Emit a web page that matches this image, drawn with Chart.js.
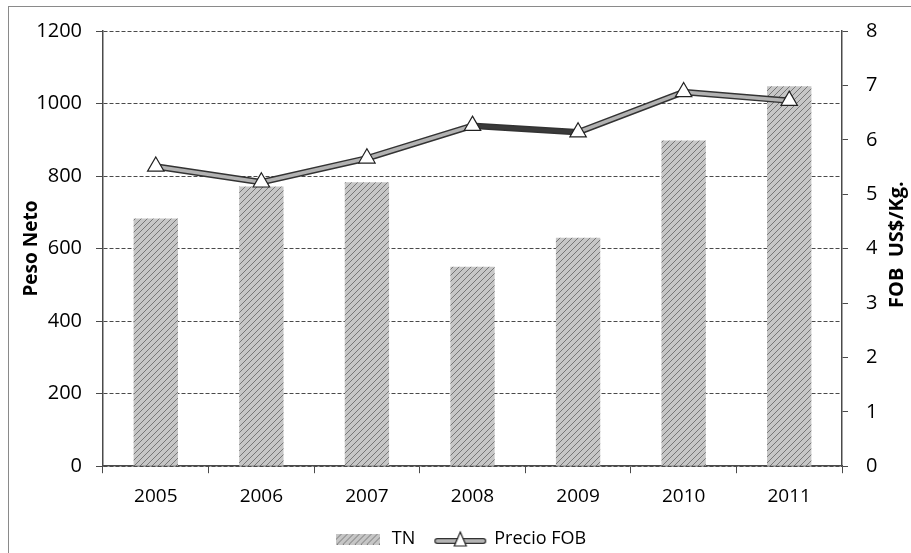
<!DOCTYPE html>
<html>
<head>
<meta charset="utf-8">
<script src="https://cdn.jsdelivr.net/npm/chart.js@4"></script>
<style>
  html, body { margin: 0; padding: 0; background: #fff; }
  #wrap { position: relative; width: 911px; height: 553px; overflow: hidden; }
  #frame { position: absolute; left: 8px; top: 6px; width: 960px; height: 600px; border: 1px solid #8a8a8a; box-sizing: border-box; pointer-events: none; }
  canvas { position: absolute; left: 0; top: 0; }
</style>
</head>
<body>
<div id="wrap">
  <canvas id="chart" width="911" height="553"></canvas>
  <div id="frame"></div>
</div>
<script>
// Peso neto exportado (TN) y precio FOB por año
const years = ['2005', '2006', '2007', '2008', '2009', '2010', '2011'];
const pesoNeto = [683, 771, 783, 550, 630, 898, 1048];
const precioFob = [5.51, 5.22, 5.66, 6.26, 6.14, 6.88, 6.72];

const FONT = '"Open Sans", "DejaVu Sans", sans-serif';

function makeHatch() {
  const c = document.createElement('canvas');
  c.width = 6; c.height = 6;
  const g = c.getContext('2d');
  g.fillStyle = '#c6c6c6';
  g.fillRect(0, 0, 6, 6);
  g.strokeStyle = '#767676';
  g.lineWidth = 1;
  g.beginPath();
  g.moveTo(-1, 7); g.lineTo(7, -1);
  g.moveTo(-4, 4); g.lineTo(4, -4);
  g.moveTo(2, 10); g.lineTo(10, 2);
  g.stroke();
  return g.createPattern(c, 'repeat');
}

const hatch = makeHatch();

// legend icons
function barIcon() {
  const c = document.createElement('canvas');
  c.width = 44; c.height = 11;
  const g = c.getContext('2d');
  g.fillStyle = hatch;
  g.fillRect(0, 0, 44, 11);
  return c;
}

function lineIcon() {
  const c = document.createElement('canvas');
  c.width = 54; c.height = 20;
  const g = c.getContext('2d');
  g.lineCap = 'round';
  g.strokeStyle = '#333';
  g.lineWidth = 6;
  g.beginPath(); g.moveTo(4, 12); g.lineTo(50, 12); g.stroke();
  g.strokeStyle = '#b4b4b4';
  g.lineWidth = 3.5;
  g.beginPath(); g.moveTo(4, 12); g.lineTo(50, 12); g.stroke();
  g.fillStyle = '#fff';
  g.strokeStyle = '#222';
  g.lineWidth = 1.2;
  g.beginPath(); g.moveTo(27, 3); g.lineTo(33, 17); g.lineTo(21, 17); g.closePath();
  g.fill(); g.stroke();
  return c;
}

const legendIcons = [barIcon(), lineIcon()];

// right axis title reads bottom-to-top
const rightTitle = {
  id: 'rightTitle',
  afterDraw(chart) {
    const { ctx, chartArea } = chart;
    ctx.save();
    ctx.translate(897, (chartArea.top + chartArea.bottom) / 2 - 4);
    ctx.rotate(-Math.PI / 2);
    ctx.font = 'bold 20px ' + FONT;
    ctx.fillStyle = '#000';
    ctx.textAlign = 'center';
    ctx.textBaseline = 'middle';
    ctx.fillText('FOB  US$/Kg.', 0, 0);
    ctx.restore();
  }
};

const gridDark = '#4a4a4a';

new Chart(document.getElementById('chart'), {
  data: {
    labels: years,
    datasets: [
      {
        type: 'bar',
        label: 'TN',
        data: pesoNeto,
        yAxisID: 'y',
        backgroundColor: hatch,
        borderWidth: 0,
        barPercentage: 0.42,
        categoryPercentage: 1,
        order: 3
      },
      {
        type: 'line',
        label: 'outline',
        data: precioFob,
        yAxisID: 'y1',
        borderColor: '#333',
        borderWidth: 6.5,
        pointRadius: 0,
        fill: false,
        order: 2
      },
      {
        type: 'line',
        label: 'Precio FOB',
        data: precioFob,
        yAxisID: 'y1',
        borderColor: '#b2b2b2',
        borderWidth: 3.5,
        segment: {
          borderColor: (ctx) => (ctx.p0DataIndex === 3 ? '#3a3a3a' : undefined)
        },
        pointStyle: 'triangle',
        pointRadius: 9.5,
        pointBackgroundColor: '#fff',
        pointBorderColor: '#222',
        pointBorderWidth: 1.2,
        fill: false,
        order: 1
      }
    ]
  },
  options: {
    responsive: false,
    animation: false,
    layout: { padding: { left: 8, right: 0, top: 31, bottom: -5 } },
    plugins: {
      tooltip: { enabled: false },
      legend: {
        position: 'bottom',
        labels: {
          font: { family: FONT, size: 18 },
          color: '#000',
          usePointStyle: true,
          pointStyleWidth: 50,
          padding: 20,
          sort: (a, b) => a.datasetIndex - b.datasetIndex,
          filter: (item) => item.text !== 'outline',
          generateLabels(chart) {
            const items = Chart.defaults.plugins.legend.labels.generateLabels(chart);
            items.forEach((it) => {
              if (it.text === 'TN') it.pointStyle = legendIcons[0];
              if (it.text === 'Precio FOB') it.pointStyle = legendIcons[1];
            });
            return items;
          }
        }
      }
    },
    scales: {
      x: {
        grid: { drawOnChartArea: false, color: gridDark, tickLength: 7 },
        border: { color: gridDark, width: 1.5 },
        ticks: { font: { family: FONT, size: 19 }, color: '#000', padding: 12 },
        afterFit(scale) { scale.height -= 10; }
      },
      y: {
        position: 'left',
        min: 0,
        max: 1200,
        ticks: {
          stepSize: 200,
          font: { family: FONT, size: 20 },
          color: '#000',
          padding: 14,
          callback: (v) => String(v)
        },
        grid: { color: gridDark, tickLength: 7 },
        border: { color: gridDark, width: 1.5, dash: [4, 2] },
        title: { display: true, text: 'Peso Neto', font: { family: FONT, size: 19, weight: 'bold' }, color: '#000', padding: { top: 12, bottom: 0 } },
        afterFit(scale) { scale.width = 95; }
      },
      y1: {
        position: 'right',
        min: 0,
        max: 8,
        ticks: { stepSize: 1, font: { family: FONT, size: 20 }, color: '#000', padding: 18 },
        grid: { drawOnChartArea: false, color: gridDark, tickLength: 6 },
        border: { color: gridDark, width: 1.5 },
        afterFit(scale) { scale.width = 69; }
      }
    }
  },
  plugins: [rightTitle]
});
</script>
</body>
</html>
